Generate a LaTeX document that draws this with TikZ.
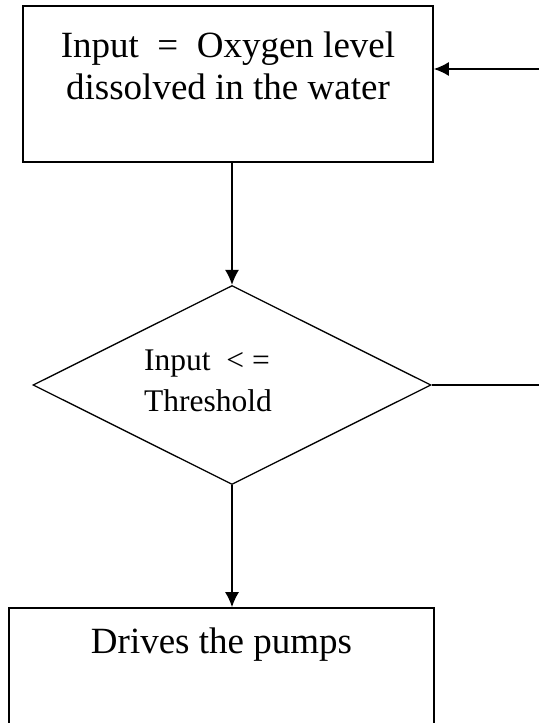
\documentclass[tikz,border=0pt]{standalone}
\usepackage{fontspec}
\setmainfont{Liberation Serif}
\usetikzlibrary{shapes.geometric, arrows.meta}

\begin{document}
\begin{tikzpicture}[x=0.5pt, y=-0.5pt,
  box/.style={draw, line width=0.85pt, inner sep=0pt},
  decision/.style={draw, diamond, line width=0.65pt, inner sep=0pt, minimum width=199pt, minimum height=99.5pt},
  boxtext/.style={anchor=north, inner sep=0pt, align=center, font=\fontsize{18.5}{21}\selectfont},
  flow/.style={line width=0.7pt, -{Latex[length=7.5pt, width=7pt]}}]
\clip (0,0) rectangle (539,723);
\node[box, minimum width=205pt, minimum height=78pt,
  label={[boxtext, name=inptext, yshift=-13pt]north:{Input~~=~~Oxygen level\\dissolved in the water}}] (inp) at (228,84) {};
\node[decision,
  label={[name=thrtext, inner sep=0pt, align=left, font=\fontsize{15.75}{20.5}\selectfont, xshift=-12pt, yshift=2pt]center:{Input~~<~=\\Threshold}}] (thr) at (232,385) {};
\node[box, minimum width=212.5pt, minimum height=78pt,
  label={[boxtext, name=pumptext, yshift=-10pt]north:{Drives the pumps}}] (pump) at (221.5,686) {};
\coordinate (fbin) at (539,69);
\coordinate (fbout) at (539,385);
\draw[flow] (fbin) -- (fbin -| inp.east);
\draw[flow] (thr.north |- inp.south) -- (thr.north);
\draw[flow] (thr.south) -- (thr.south |- pump.north);
\draw[line width=0.7pt] (thr.east) -- (fbout);
\end{tikzpicture}
\end{document}
